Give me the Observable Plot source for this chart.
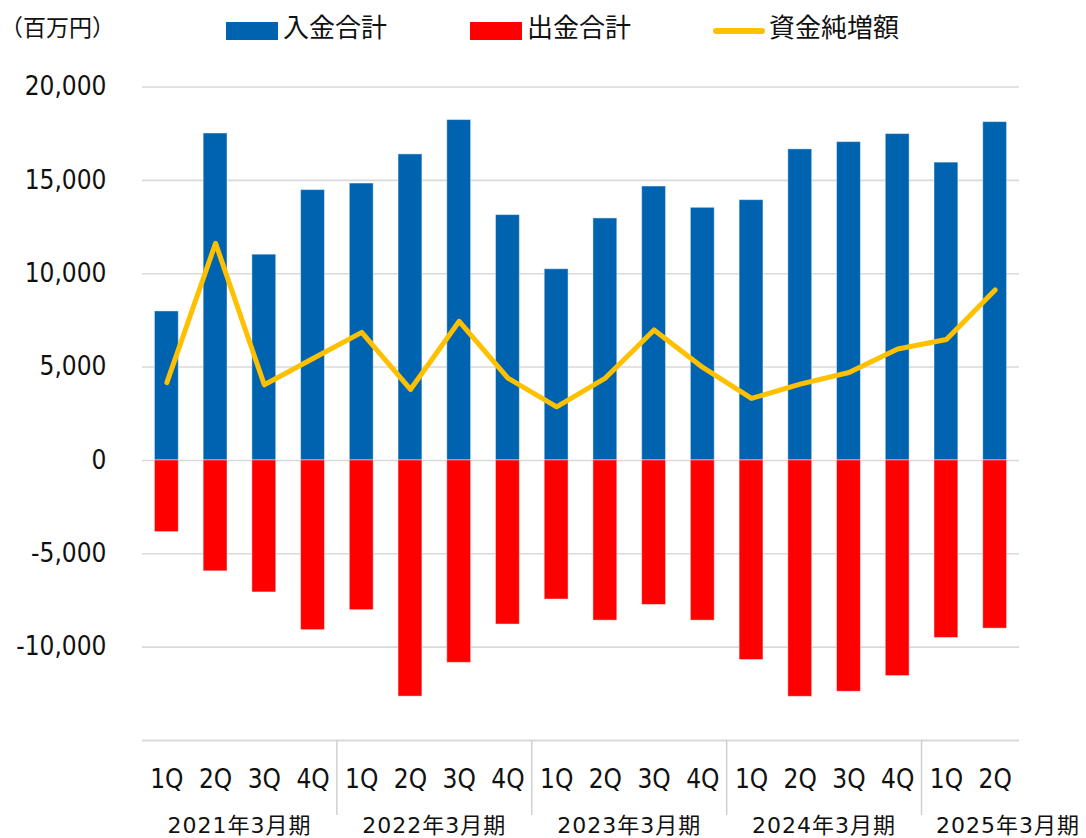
<!DOCTYPE html>
<html>
<head>
<meta charset="utf-8">
<script src="https://cdn.jsdelivr.net/npm/d3@7"></script>
<script src="https://cdn.jsdelivr.net/npm/@observablehq/plot@0.6"></script>
<style>
  html, body { margin: 0; padding: 0; background: #fff; }
  body { width: 1086px; height: 838px; overflow: hidden; font-family: "DejaVu Sans", "Noto Sans CJK JP", sans-serif; color: #111; }
  #head { position: relative; width: 1086px; height: 50px; }
  .unit { position: absolute; left: 0; top: 12px; font-size: 23px; line-height: 28px; font-family: "Noto Sans CJK JP", sans-serif; }
  .item { position: absolute; top: 0; height: 50px; }
  .sw { position: absolute; top: 22px; width: 52px; height: 18px; }
  .ln { position: absolute; top: 28px; width: 52px; height: 6px; border-radius: 3px; }
  .lt { position: absolute; top: 10px; font-size: 26px; line-height: 32px; white-space: nowrap; font-family: "Noto Sans CJK JP", sans-serif; }
  #chart svg { display: block; }
</style>
</head>
<body>
<div id="head"></div>
<div id="chart"></div>
<script>
// ---- data ----
const fiscalYears = ["2021年3月期", "2022年3月期", "2023年3月期", "2024年3月期", "2025年3月期"];
const periodYear = [
  "2021年3月期", "2021年3月期", "2021年3月期", "2021年3月期",
  "2022年3月期", "2022年3月期", "2022年3月期", "2022年3月期",
  "2023年3月期", "2023年3月期", "2023年3月期", "2023年3月期",
  "2024年3月期", "2024年3月期", "2024年3月期", "2024年3月期",
  "2025年3月期", "2025年3月期"
];
const quarterLabels = ["1Q","2Q","3Q","4Q","1Q","2Q","3Q","4Q","1Q","2Q","3Q","4Q","1Q","2Q","3Q","4Q","1Q","2Q"];
const inflowTotal  = [7980, 17510, 11020, 14480, 14830, 16390, 18230, 13140, 10240, 12960, 14670, 13530, 13940, 16660, 17050, 17480, 15950, 18120];
const outflowTotal = [-3840, -5940, -7070, -9090, -8020, -12650, -10840, -8790, -7450, -8580, -7740, -8580, -10690, -12660, -12390, -11550, -9510, -9010];
const netIncrease  = [4170, 11630, 4050, 5460, 6860, 3800, 7450, 4410, 2870, 4410, 6990, 4980, 3320, 4090, 4710, 5970, 6480, 9130];
const seriesNames  = ["入金合計", "出金合計", "資金純増額"];
const seriesColors = ["#0063B0", "#FF0000", "#FFC000"];
const yTicks = [20000, 15000, 10000, 5000, 0, -5000, -10000];
const yDomain = [-15000, 20000];
const unitLabel = "（百万円）";

// ---- header (unit + legend) ----
const head = document.getElementById("head");
const unit = document.createElement("div");
unit.className = "unit"; unit.textContent = unitLabel; head.appendChild(unit);
const legendLeft = [226, 470, 713];
seriesNames.forEach((name, i) => {
  const item = document.createElement("div");
  item.className = "item"; item.style.left = legendLeft[i] + "px";
  const mk = document.createElement("div");
  mk.className = i < 2 ? "sw" : "ln";
  mk.style.background = seriesColors[i];
  mk.style.left = "0px";
  item.appendChild(mk);
  const t = document.createElement("div");
  t.className = "lt"; t.textContent = name; t.style.left = (i < 2 ? 57 : 56) + "px";
  item.appendChild(t);
  head.appendChild(item);
});

// ---- chart ----
const rows = periodYear.map((y, i) => ({
  key: y + "|" + quarterLabels[i], year: y, q: quarterLabels[i],
  inflow: inflowTotal[i], outflow: outflowTotal[i], net: netIncrease[i]
}));
const keys = rows.map(d => d.key);
const W = 1086, H = 788;
const latin = "'DejaVu Sans Condensed', 'DejaVu Sans', 'Noto Sans CJK JP', sans-serif";

const chart = Plot.plot({
  width: W, height: H,
  marginLeft: 142, marginRight: 67, marginTop: 36.5, marginBottom: 98,
  style: { fontFamily: latin, color: "#111", background: "#fff", overflow: "visible" },
  x: { type: "band", domain: keys, paddingInner: 0.51, paddingOuter: 0.255, round: false, label: null },
  y: { domain: yDomain, label: null },
  marks: [
    Plot.ruleY(yTicks, { stroke: "#d9d9d9", strokeWidth: 1.6 }),
    Plot.ruleY([yDomain[0]], { stroke: "#d9d9d9", strokeWidth: 2 }),
    Plot.barY(rows, { x: "key", y1: 0, y2: "inflow", fill: seriesColors[0], stroke: "#fff", strokeOpacity: 0.45, strokeWidth: 1 }),
    Plot.barY(rows, { x: "key", y1: 0, y2: "outflow", fill: seriesColors[1], stroke: "#fff", strokeOpacity: 0.45, strokeWidth: 1 }),
    Plot.line(rows, { x: "key", y: "net", stroke: seriesColors[2], strokeWidth: 5, strokeLinecap: "round", strokeLinejoin: "round" }),
    Plot.axisY({ ticks: yTicks, tickSize: 0, tickPadding: 36, fontSize: 26, label: null, tickFormat: d => d.toLocaleString("en-US") }),
    Plot.axisX({ tickSize: 0, tickPadding: 29, fontSize: 26, label: null, tickFormat: k => k.split("|")[1] })
  ]
});
document.getElementById("chart").appendChild(chart);

// ---- multi-level category axis: year separators and year labels ----
const xs = chart.scale("x"), ys = chart.scale("y");
const bw = xs.bandwidth;
const center = k => xs.apply(k) + bw / 2;
const half = (center(keys[1]) - center(keys[0])) / 2;
const svg = d3.select(chart);
const g = svg.append("g");
const yBase = ys.apply(yDomain[0]);
for (let i = 0; i < keys.length - 1; i++) {
  if (periodYear[i] !== periodYear[i + 1]) {
    const xb = (center(keys[i]) + center(keys[i + 1])) / 2;
    g.append("line").attr("x1", xb).attr("x2", xb).attr("y1", yBase).attr("y2", yBase + 75)
      .attr("stroke", "#d0d0d0").attr("stroke-width", 1.5);
  }
}
fiscalYears.forEach(fy => {
  const ks = keys.filter((k, i) => periodYear[i] === fy);
  const x0 = center(ks[0]) - half, x1 = center(ks[ks.length - 1]) + half;
  const t = g.append("text")
    .attr("y", yBase + 93)
    .attr("font-size", 22)
    .attr("letter-spacing", 1)
    .attr("font-family", "'DejaVu Sans', 'Noto Sans CJK JP', sans-serif")
    .attr("fill", "#111")
    .text(fy);
  if (ks.length < 4) t.attr("x", W - 6).attr("text-anchor", "end");
  else t.attr("x", (x0 + x1) / 2).attr("text-anchor", "middle");
});
</script>
</body>
</html>
